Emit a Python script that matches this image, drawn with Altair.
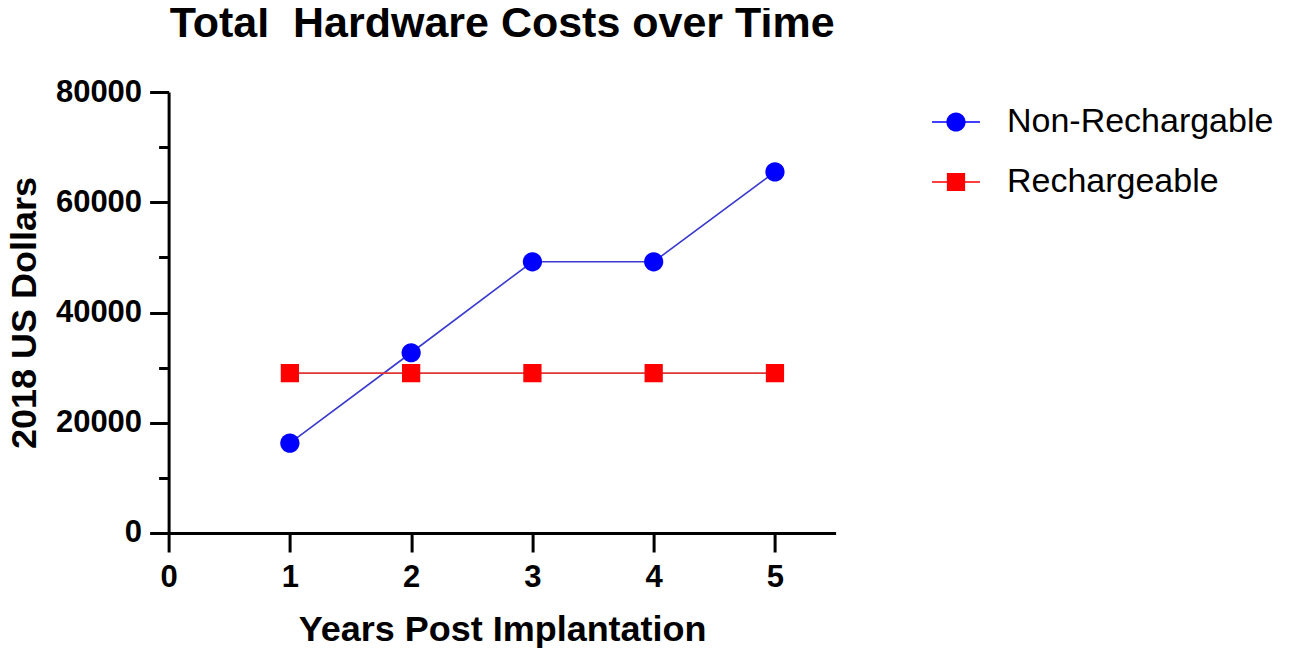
import altair as alt
import pandas as pd

years = [1, 2, 3, 4, 5]
non_rechargable = [16300, 32700, 49200, 49200, 65500]
rechargeable = [29000, 29000, 29000, 29000, 29000]
series_names = ["Non-Rechargable", "Rechargeable"]
x_ticks = [0, 1, 2, 3, 4, 5]
y_ticks = [0, 10000, 20000, 30000, 40000, 50000, 60000, 70000, 80000]

rows = []
for name, vals in zip(series_names, [non_rechargable, rechargeable]):
    for yr, v in zip(years, vals):
        rows.append({"year": yr, "cost": v, "series": name})
df = pd.DataFrame(rows)

FONT = "Liberation Sans"
marker_colors = ["#0000ff", "#ff0000"]
line_colors = ["#3a3acf", "#e03535"]

circle = "M-0.4,0A0.4,0.4 0 1,1 0.4,0A0.4,0.4 0 1,1 -0.4,0Z"
square = "M-0.38,-0.38H0.38V0.38H-0.38Z"
bar = "M-1,-0.035H1V0.035H-1Z"
circle_line = bar + circle
square_line = bar + square

x_enc = alt.X(
    "year:Q",
    scale=alt.Scale(domain=[0, 5.5], nice=False, zero=False),
    axis=alt.Axis(
        values=x_ticks, title="Years Post Implantation", grid=False,
        domainWidth=3, domainColor="black", tickWidth=3, tickColor="black",
        tickSize=19, labelFont=FONT, labelFontSize=31, labelFontWeight="bold",
        labelColor="black", labelPadding=11, titleFont=FONT, titleFontSize=36,
        titleFontWeight="bold", titleColor="black", titlePadding=20,
        labelFlush=False,
    ),
)
y_enc = alt.Y(
    "cost:Q",
    scale=alt.Scale(domain=[0, 80000], nice=False),
    axis=alt.Axis(
        values=y_ticks, title="2018 US Dollars", grid=False,
        labelExpr="datum.value % 20000 === 0 ? datum.label : ''",
        format="d",
        domainWidth=3, domainColor="black", tickWidth=3, tickColor="black",
        tickSize={"condition": {"test": "datum.value % 20000 === 0", "value": 19}, "value": 10},
        labelFont=FONT, labelFontSize=31, labelFontWeight="bold",
        labelColor="black", labelPadding=8, titleFont=FONT, titleFontSize=36,
        titleFontWeight="bold", titleColor="black", titlePadding=12,
        labelFlush=False,
    ),
)

leg = dict(
    orient="none", legendX=763.4, legendY=6, title=None, labelFont=FONT,
    labelFontSize=34, labelColor="black", symbolSize=2304, symbolStrokeWidth=0,
    labelOffset=27, rowPadding=19, padding=0, symbolOpacity=1, labelLimit=450,
)

lines = alt.Chart(df).mark_line(strokeWidth=1.6).encode(
    x=x_enc, y=y_enc,
    color=alt.Color("series:N", scale=alt.Scale(domain=series_names, range=line_colors), legend=None),
)
points = alt.Chart(df).mark_point(filled=True, opacity=1, size=2304, strokeWidth=0).encode(
    x=x_enc, y=y_enc,
    color=alt.Color("series:N", scale=alt.Scale(domain=series_names, range=marker_colors), legend=None),
    shape=alt.Shape("series:N", scale=alt.Scale(domain=series_names, range=[circle, square]), legend=None),
)
legend_layer = alt.Chart(df).transform_filter("false").mark_point(
    filled=True, opacity=1, size=2304, strokeWidth=0
).encode(
    x=x_enc, y=y_enc,
    color=alt.Color("series:N", scale=alt.Scale(domain=series_names, range=marker_colors), legend=alt.Legend(**leg)),
    shape=alt.Shape("series:N", scale=alt.Scale(domain=series_names, range=[circle_line, square_line]), legend=alt.Legend(**leg)),
)

chart = alt.layer(lines, points, legend_layer).resolve_scale(
    color="independent", shape="independent"
).properties(
    width=667, height=441,
    title=alt.Title("Total\u00a0 Hardware Costs over Time", font=FONT, fontSize=43,
                    fontWeight="bold", color="black", anchor="middle", offset=30),
    autosize=alt.AutoSizeParams(type="none"),
    padding={"left": 160.6, "top": 84, "right": 455, "bottom": 121},
).configure_view(stroke=None)

chart.save("out.html", embed_options={"renderer": "svg", "actions": False})
